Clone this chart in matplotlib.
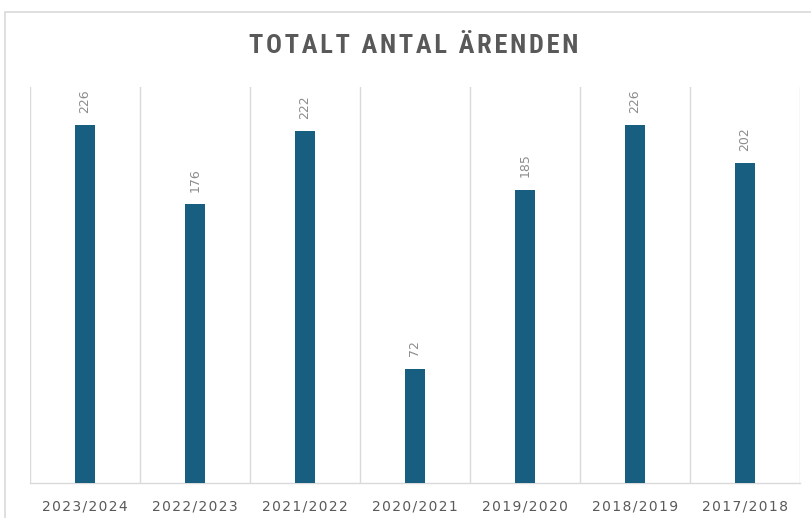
import matplotlib
matplotlib.use("Agg")
import matplotlib.pyplot as plt
import matplotlib.patches as mpatches
from matplotlib import font_manager

# Data
seasons = ["2023/2024", "2022/2023", "2021/2022", "2020/2021",
           "2019/2020", "2018/2019", "2017/2018"]
cases = [226, 176, 222, 72, 185, 226, 202]

BAR_COLOR = "#175e80"
GRID_COLOR = "#d9d9d9"
TEXT_COLOR = "#595959"

names = {f.name for f in font_manager.fontManager.ttflist}
title_family = "DejaVu Sans"
for cand in ["Liberation Sans Narrow", "DejaVu Sans Condensed", "Roboto Condensed",
             "Open Sans Condensed", "Noto Sans Condensed"]:
    if cand in names:
        title_family = cand
        break


def spaced(s, sep="\u200a"):
    return sep.join(s)


fig = plt.figure(figsize=(8.12, 5.18), dpi=100)
ax = fig.add_axes([30 / 812, 35 / 518, 770 / 812, 396 / 518])

# outer chart border (cut off on the right and bottom like the reference)
fig.patches.append(mpatches.Rectangle((5 / 812, -0.1), 1.2, (518 - 12) / 518 + 0.1,
                                      transform=fig.transFigure, fill=False,
                                      edgecolor=GRID_COLOR, linewidth=1.2))

x = range(len(seasons))
ax.bar(x, cases, width=0.18, color=BAR_COLOR, zorder=3)

for xi, v in zip(x, cases):
    ax.annotate(str(v), (xi, v), xytext=(0, 9), textcoords="offset points",
                rotation=90, ha="center", va="bottom", fontsize=9, color="#8c8c8c")

ax.set_xlim(-0.5, len(seasons) - 0.5)
ax.set_ylim(0, 250)
ax.set_yticks([])
ax.set_xticks(list(x))
ax.set_xticklabels([spaced(s) for s in seasons], fontsize=10, color=TEXT_COLOR)
ax.tick_params(axis="x", length=0, pad=12)

# category separators
for b in range(len(seasons) + 1):
    ax.axvline(b - 0.5, color=GRID_COLOR, linewidth=1.0, zorder=1)

for side in ["top", "left", "right"]:
    ax.spines[side].set_visible(False)
ax.spines["bottom"].set_color(GRID_COLOR)
ax.spines["bottom"].set_linewidth(1.0)

fig.text(414 / 812, 1 - 46 / 518, spaced("TOTALT ANTAL ÄRENDEN", "\u200a"),
         ha="center", va="center", fontsize=19, fontweight="bold",
         color=TEXT_COLOR, family=title_family)

fig.savefig("out.png", dpi=100)
